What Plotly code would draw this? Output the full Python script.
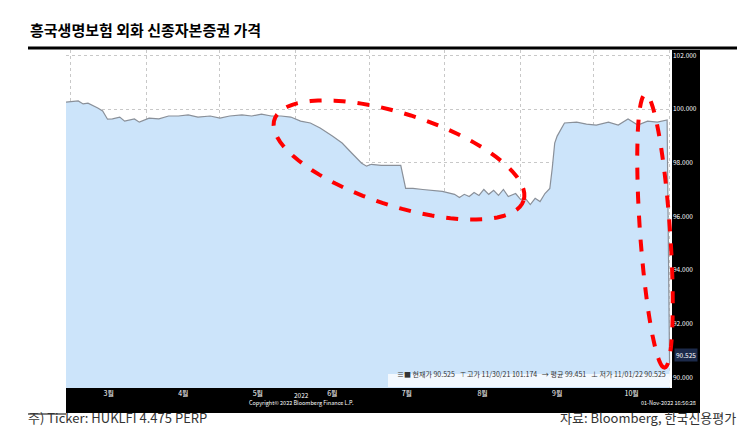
import numpy as np
import plotly.graph_objects as go

# price series
dates = ["2022-02-27", "2022-03-04", "2022-03-06", "2022-03-08", "2022-03-12", "2022-03-14",
         "2022-03-16", "2022-03-18", "2022-03-21", "2022-03-23", "2022-03-27", "2022-03-29",
         "2022-04-02", "2022-04-06", "2022-04-10", "2022-04-14", "2022-04-18", "2022-04-22",
         "2022-04-27", "2022-05-01", "2022-05-05", "2022-05-10", "2022-05-14", "2022-05-18",
         "2022-05-22", "2022-05-26", "2022-05-30", "2022-06-03", "2022-06-07", "2022-06-11",
         "2022-06-16", "2022-06-20", "2022-06-24", "2022-06-28", "2022-06-30", "2022-07-02",
         "2022-07-06", "2022-07-11", "2022-07-14", "2022-07-16", "2022-07-19", "2022-07-23",
         "2022-07-27", "2022-07-31", "2022-08-05", "2022-08-07", "2022-08-09", "2022-08-11",
         "2022-08-13", "2022-08-15", "2022-08-17", "2022-08-19", "2022-08-21", "2022-08-23",
         "2022-08-25", "2022-08-27", "2022-08-30", "2022-09-01", "2022-09-03", "2022-09-05",
         "2022-09-07", "2022-09-09", "2022-09-11", "2022-09-13", "2022-09-14", "2022-09-15",
         "2022-09-16", "2022-09-19", "2022-09-24", "2022-09-28", "2022-10-02", "2022-10-07",
         "2022-10-11", "2022-10-15", "2022-10-19", "2022-10-23", "2022-10-27", "2022-10-31",
         "2022-11-01"]
prices = [100.26, 100.30, 100.19, 100.22, 100.04, 99.93,
          99.62, 99.63, 99.70, 99.55, 99.63, 99.51,
          99.66, 99.63, 99.74, 99.74, 99.78, 99.70,
          99.74, 99.66, 99.74, 99.78, 99.74, 99.81,
          99.74, 99.74, 99.70, 99.55, 99.48, 99.29,
          98.99, 98.73, 98.35, 97.98, 97.87, 97.94,
          97.90, 97.90, 97.90, 97.04, 97.04, 97.00,
          96.97, 96.93, 96.82, 96.70, 96.82, 96.74,
          96.89, 96.78, 97.00, 96.82, 96.97, 96.78,
          97.00, 96.74, 96.85, 96.63, 96.67, 96.44,
          96.67, 96.55, 96.85, 97.04, 97.80, 98.73,
          98.99, 99.48, 99.51, 99.44, 99.40, 99.51,
          99.40, 99.63, 99.40, 99.55, 99.51, 99.59,
          90.525]

L, R, T, B = 58, 664, 42, 380

def px(x):
    return (x - L) / (R - L)

def py(y):
    return (B - y) / (B - T)

def ellipse_path(cx, cy, a, b, ang):
    t = np.linspace(0, 2 * np.pi, 80)
    c, s = np.cos(np.radians(ang)), np.sin(np.radians(ang))
    xs = cx + a * np.cos(t) * c - b * np.sin(t) * s
    ys = cy + a * np.cos(t) * s + b * np.sin(t) * c
    return "M " + " L ".join(f"{px(x):.4f},{py(y):.4f}" for x, y in zip(xs, ys)) + " Z"

fig = go.Figure()
fig.add_trace(go.Scatter(x=dates, y=prices, mode="lines", fill="tozeroy",
                         fillcolor="#cce4fa", line=dict(color="#8a9099", width=1.2)))

fig.update_layout(
    width=745, height=437, margin=dict(l=L, r=745 - R, t=T, b=437 - B),
    paper_bgcolor="white", plot_bgcolor="white", showlegend=False,
    font=dict(family="Noto Sans CJK KR"),
    xaxis=dict(range=["2022-02-27", "2022-11-02"], dtick="M1", tick0="2022-03-01",
               ticklabelmode="period", tickformat="%-m월", showgrid=True,
               gridcolor="#c8c8c8", griddash="dot", tickfont=dict(color="white", size=7),
               ticks="", zeroline=False),
    yaxis=dict(range=[89.6, 102.2], side="right", tickvals=[90, 92, 94, 96, 98, 100, 102],
               tickformat=".3f", tickfont=dict(color="white", size=6.5), gridcolor="#c8c8c8",
               griddash="dot", zeroline=False, ticks=""),
    shapes=[
        dict(type="rect", xref="paper", yref="paper", x0=px(58), x1=px(692), y0=py(405), y1=py(42),
             fillcolor="black", line_width=0, layer="below"),
        dict(type="rect", xref="paper", yref="paper", x0=0, x1=1, y0=0, y1=1,
             fillcolor="white", line_width=0, layer="below"),
        dict(type="line", xref="paper", yref="paper", x0=px(20), x1=px(730), y0=py(40), y1=py(40),
             line=dict(color="black", width=3)),
        dict(type="line", xref="paper", yref="paper", x0=px(20), x1=px(58), y0=py(406), y1=py(406),
             line=dict(color="black", width=1)),
        dict(type="rect", xref="paper", yref="paper", x0=px(380), x1=px(662), y0=py(379), y1=py(366),
             fillcolor="rgba(255,255,255,0.75)", line_width=0),
        dict(type="path", xref="paper", yref="paper", path=ellipse_path(391, 152, 131, 46, 18),
             line=dict(color="red", width=4, dash="dash")),
        dict(type="path", xref="paper", yref="paper", path=ellipse_path(647, 223, 137, 15, 86),
             line=dict(color="red", width=4, dash="dash")),
    ],
    annotations=[
        dict(text="<b>흥국생명보험 외화 신종자본증권 가격</b>", xref="paper", yref="paper",
             x=px(20), y=py(22), xanchor="left", yanchor="middle", showarrow=False,
             font=dict(size=15, color="black")),
        dict(text="≡■ 현재가 90.525   ⊤ 고가 11/30/21 101.174   → 평균 99.451   ⊥ 저가 11/01/22 90.525",
             xref="paper", yref="paper", x=px(660), y=py(373), xanchor="right", showarrow=False,
             font=dict(size=7, color="#333")),
        dict(text="90.525", xref="paper", yref="paper", x=px(666), y=py(354), xanchor="left",
             showarrow=False, bgcolor="#1c2a4a", borderpad=1,
             font=dict(size=6.5, color="white")),
        dict(text="2022", xref="paper", yref="paper", x=px(293), y=py(394), showarrow=False,
             font=dict(size=6.5, color="white")),
        dict(text="Copyright© 2022 Bloomberg Finance L.P.", xref="paper", yref="paper",
             x=px(293), y=py(401), showarrow=False, font=dict(size=5.5, color="white")),
        dict(text="01-Nov-2022 16:56:28", xref="paper", yref="paper", x=px(690), y=py(401),
             xanchor="right", showarrow=False, font=dict(size=5.5, color="white")),
        dict(text="주) Ticker: HUKLFI 4.475 PERP", xref="paper", yref="paper", x=px(18), y=py(421),
             xanchor="left", showarrow=False, font=dict(size=13, color="#333")),
        dict(text="자료: Bloomberg, 한국신용평가", xref="paper", yref="paper", x=px(730), y=py(421),
             xanchor="right", showarrow=False, font=dict(size=13, color="#333")),
    ],
)

fig.write_html("out.html")
